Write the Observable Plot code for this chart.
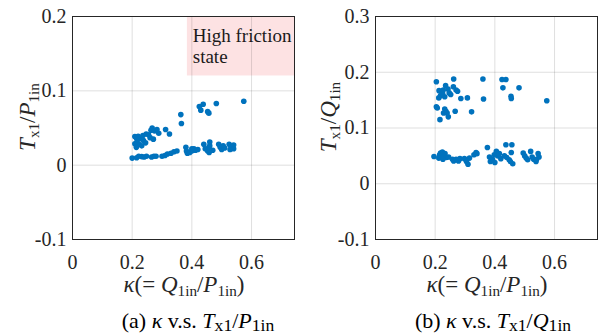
<!DOCTYPE html>
<html><head><meta charset="utf-8">
<script src="https://cdn.jsdelivr.net/npm/d3@7"></script>
<script src="https://cdn.jsdelivr.net/npm/@observablehq/plot@0.6"></script>
<style>
body{margin:0;background:#fff;}
#root{position:relative;width:603px;height:334px;font-family:"Liberation Serif","Times New Roman",serif;color:#262626;overflow:hidden}
#root *{font-family:"Liberation Serif","Times New Roman",serif}
.panel{position:absolute;top:0}
.lbl{position:absolute;white-space:nowrap;font-size:23px;line-height:1}
.lbl sub{font-size:0.66em;vertical-align:baseline;position:relative;top:0.28em}
.ylbl{transform:translate(-50%,-50%) rotate(-90deg)}
.xlbl{transform:translate(-50%,0)}
.cap{position:absolute;white-space:nowrap;font-size:22px;line-height:1;transform:translate(-50%,0);color:#000}
.cap sub{font-size:0.8em;vertical-align:baseline;position:relative;top:0.18em}
svg text{font-family:"Liberation Serif","Times New Roman",serif !important}
</style></head>
<body>
<div id="root">
  <div class="panel" id="pa" style="left:0px"></div>
  <div class="panel" id="pb" style="left:303px"></div>
  <div class="lbl ylbl" style="left:27px;top:117px"><i>T</i><sub>x1</sub>/<i>P</i><sub>1in</sub></div>
  <div class="lbl ylbl" style="left:328px;top:117px"><i>T</i><sub>x1</sub>/<i>Q</i><sub>1in</sub></div>
  <div class="lbl xlbl" style="left:184px;top:273px"><i>κ</i>(= <i>Q</i><sub>1in</sub>/<i>P</i><sub>1in</sub>)</div>
  <div class="lbl xlbl" style="left:487px;top:273px"><i>κ</i>(= <i>Q</i><sub>1in</sub>/<i>P</i><sub>1in</sub>)</div>
  <div class="cap" style="left:198px;top:310px">(a) <i>κ</i> v.s. <i>T</i><sub>x1</sub>/<i>P</i><sub>1in</sub></div>
  <div class="cap" style="left:493px;top:310px">(b) <i>κ</i> v.s. <i>T</i><sub>x1</sub>/<i>Q</i><sub>1in</sub></div>
</div>
<script>
// Panel (a): kappa vs Tx1/P1in
const kappaA = [0.574,0.482,0.438,0.425,0.430,0.453,0.457,0.363,0.365,0.312,0.325,0.267,0.263,0.275,0.289,0.247,0.236,0.271,0.209,0.215,0.225,0.238,0.216,0.209,0.223,0.214,0.232,0.245,0.255,0.283,0.220,0.260,
  0.200,0.215,0.222,0.232,0.240,0.248,0.265,0.273,0.280,0.300,0.310,0.318,0.330,0.340,0.350,0.380,0.382,0.385,0.393,0.400,0.407,0.412,0.420,0.440,0.445,0.453,0.457,0.460,0.460,0.458,0.490,0.495,0.500,0.505,0.510,0.525,0.532,0.528,0.540,0.540,0.400,0.470];
const ratioA = [0.086,0.083,0.082,0.079,0.074,0.072,0.070,0.068,0.056,0.048,0.042,0.050,0.047,0.046,0.043,0.042,0.040,0.035,0.0385,0.036,0.0354,0.033,0.031,0.0287,0.028,0.024,0.026,0.030,0.041,0.048,0.039,0.037,
  0.0095,0.010,0.012,0.0115,0.011,0.012,0.011,0.012,0.012,0.012,0.013,0.015,0.016,0.018,0.019,0.024,0.019,0.016,0.017,0.019,0.022,0.020,0.021,0.028,0.022,0.019,0.024,0.031,0.026,0.017,0.028,0.024,0.021,0.026,0.023,0.028,0.024,0.021,0.027,0.022,0.022,0.020];
// Panel (b): kappa vs Tx1/Q1in
const kappaB = [0.204,0.262,0.360,0.424,0.437,0.235,0.213,0.227,0.243,0.261,0.270,0.275,0.247,0.252,0.218,0.232,0.286,0.308,0.362,0.427,0.481,0.454,0.455,0.574,0.204,0.207,0.232,0.236,0.240,0.228,0.267,0.322,0.244,0.216,0.225,0.212,
  0.196,0.212,0.215,0.218,0.224,0.228,0.233,0.238,0.226,0.245,0.258,0.262,0.270,0.278,0.283,0.298,0.305,0.310,0.315,0.330,0.337,0.340,0.375,0.382,0.385,0.392,0.398,0.405,0.410,0.415,0.420,0.400,0.437,0.457,0.432,0.440,0.448,0.452,0.455,0.460,0.495,0.500,0.505,0.510,0.520,0.525,0.530,0.545,0.540,0.538,0.548];
const ratioB = [0.183,0.188,0.188,0.187,0.187,0.176,0.167,0.168,0.170,0.174,0.168,0.166,0.163,0.160,0.158,0.156,0.153,0.154,0.152,0.172,0.172,0.157,0.153,0.149,0.138,0.136,0.134,0.130,0.127,0.127,0.130,0.129,0.120,0.115,0.162,0.154,
  0.049,0.046,0.052,0.055,0.057,0.050,0.054,0.047,0.044,0.048,0.044,0.041,0.044,0.041,0.045,0.045,0.040,0.035,0.046,0.052,0.056,0.054,0.065,0.048,0.040,0.044,0.052,0.058,0.050,0.054,0.045,0.038,0.070,0.070,0.050,0.047,0.043,0.040,0.056,0.036,0.055,0.050,0.046,0.043,0.058,0.048,0.044,0.054,0.044,0.040,0.048];

const xTicks = [0, 0.2, 0.4, 0.6];
const yTicksA = [-0.1, 0, 0.1, 0.2];
const yTicksB = [-0.1, 0, 0.1, 0.2, 0.3];
const xLimit = [0, 0.744];
const yLimitA = [-0.1, 0.2];
const yLimitB = [-0.1, 0.3];
const zoneX = [0.385, 0.744];
const zoneY = [0.12, 0.2];
const zoneLabel = ["High friction\nstate"];

const fmt = d => String(d);
const ink = "#262626";
const serif = '"Liberation Serif", "Times New Roman", serif';

function panel(kx, ry, yDomain, yTicks, extra) {
  return Plot.plot({
    width: 300, height: 275,
    marginLeft: 72, marginRight: 6, marginTop: 16, marginBottom: 36,
    style: {fontFamily: serif, fontSize: "19px", color: ink, background: "transparent", overflow: "visible"},
    x: {domain: xLimit},
    y: {domain: yDomain},
    marks: [
      ...extra,
      Plot.gridX(xTicks, {stroke: ink, strokeOpacity: 0.15}),
      Plot.gridY(yTicks, {stroke: ink, strokeOpacity: 0.15}),
      Plot.dot(kx, {x: kx, y: ry, r: 2.8, fill: "#0072BD", stroke: "none"}),
      Plot.axisX(xTicks, {tickSize: 0, tickPadding: 15, label: null, tickFormat: fmt, fill: ink, fontFamily: serif, fontSize: 20}),
      Plot.axisY(yTicks, {tickSize: 0, tickPadding: 6, label: null, tickFormat: fmt, fill: ink, fontFamily: serif, fontSize: 20}),
      Plot.frame({stroke: ink, strokeWidth: 1})
    ]
  });
}

const zone = [{x1: zoneX[0], x2: zoneX[1], y1: zoneY[0], y2: zoneY[1]}];
const extraA = [
  Plot.rect(zone, {x1: "x1", x2: "x2", y1: "y1", y2: "y2", fill: "#fde2e3"}),
  Plot.text(zoneLabel, {x: () => 0.403, y: () => zoneY[1], text: d => d, textAnchor: "start", lineAnchor: "top", dy: 10, fontSize: 19, lineHeight: 1.12, fill: "#1a1a1a", fontFamily: serif})
];

document.getElementById("pa").appendChild(panel(kappaA, ratioA, yLimitA, yTicksA, extraA));
document.getElementById("pb").appendChild(panel(kappaB, ratioB, yLimitB, yTicksB, []));
</script>
</body></html>
